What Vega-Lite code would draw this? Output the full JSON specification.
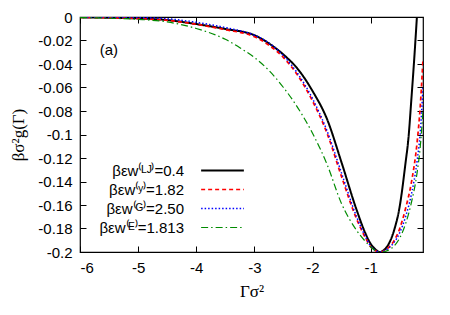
{
  "$schema": "https://vega.github.io/schema/vega-lite/v6.json",
  "width": 343,
  "height": 235,
  "autosize": {"type": "none"},
  "padding": {"left": 80, "top": 17, "right": 27, "bottom": 63},
  "background": "#ffffff",
  "config": {
    "view": {"stroke": "#000000", "strokeWidth": 1.2},
    "axis": {
      "grid": false,
      "domain": false,
      "tickColor": "#000000",
      "tickSize": -6,
      "tickWidth": 1,
      "labelFont": "Liberation Sans",
      "labelFontSize": 15,
      "labelColor": "#000000",
      "titleFont": "Liberation Serif",
      "titleFontSize": 17,
      "titleFontWeight": "normal",
      "titleColor": "#000000"
    }
  },
  "datasets": {
    "curves": [
      {"x": -6, "y": -0.0003, "s": "LJ"}, {"x": -5.5, "y": -0.0006, "s": "LJ"}, {"x": -5, "y": -0.0012, "s": "LJ"},
      {"x": -4.5, "y": -0.0026, "s": "LJ"}, {"x": -4, "y": -0.006, "s": "LJ"}, {"x": -3.5, "y": -0.0102, "s": "LJ"},
      {"x": -3, "y": -0.0155, "s": "LJ"}, {"x": -2.75, "y": -0.0225, "s": "LJ"}, {"x": -2.5, "y": -0.032, "s": "LJ"},
      {"x": -2.25, "y": -0.0445, "s": "LJ"}, {"x": -2, "y": -0.063, "s": "LJ"}, {"x": -1.75, "y": -0.087, "s": "LJ"},
      {"x": -1.5, "y": -0.124, "s": "LJ"}, {"x": -1.25, "y": -0.163, "s": "LJ"}, {"x": -1.1, "y": -0.183, "s": "LJ"},
      {"x": -1, "y": -0.193, "s": "LJ"}, {"x": -0.9, "y": -0.1985, "s": "LJ"}, {"x": -0.85, "y": -0.2, "s": "LJ"},
      {"x": -0.8, "y": -0.1993, "s": "LJ"}, {"x": -0.7, "y": -0.194, "s": "LJ"}, {"x": -0.6, "y": -0.182, "s": "LJ"},
      {"x": -0.5, "y": -0.161, "s": "LJ"}, {"x": -0.4, "y": -0.124, "s": "LJ"}, {"x": -0.35, "y": -0.103, "s": "LJ"},
      {"x": -0.3, "y": -0.07, "s": "LJ"}, {"x": -0.25, "y": -0.035, "s": "LJ"}, {"x": -0.205, "y": 0, "s": "LJ"},

      {"x": -6, "y": -0.0003, "s": "Y"}, {"x": -5.5, "y": -0.0006, "s": "Y"}, {"x": -5, "y": -0.0013, "s": "Y"},
      {"x": -4.5, "y": -0.0028, "s": "Y"}, {"x": -4, "y": -0.0062, "s": "Y"}, {"x": -3.5, "y": -0.0108, "s": "Y"},
      {"x": -3, "y": -0.0168, "s": "Y"}, {"x": -2.75, "y": -0.024, "s": "Y"}, {"x": -2.5, "y": -0.0345, "s": "Y"},
      {"x": -2.25, "y": -0.05, "s": "Y"}, {"x": -2, "y": -0.0715, "s": "Y"}, {"x": -1.75, "y": -0.099, "s": "Y"},
      {"x": -1.5, "y": -0.136, "s": "Y"}, {"x": -1.25, "y": -0.171, "s": "Y"}, {"x": -1.1, "y": -0.187, "s": "Y"},
      {"x": -1, "y": -0.1955, "s": "Y"}, {"x": -0.9, "y": -0.1993, "s": "Y"}, {"x": -0.85, "y": -0.2, "s": "Y"},
      {"x": -0.8, "y": -0.1996, "s": "Y"}, {"x": -0.7, "y": -0.1965, "s": "Y"}, {"x": -0.6, "y": -0.1905, "s": "Y"},
      {"x": -0.5, "y": -0.18, "s": "Y"}, {"x": -0.4, "y": -0.163, "s": "Y"}, {"x": -0.3, "y": -0.141, "s": "Y"},
      {"x": -0.2, "y": -0.106, "s": "Y"}, {"x": -0.15, "y": -0.078, "s": "Y"}, {"x": -0.1, "y": -0.036, "s": "Y"},

      {"x": -6, "y": -0.0001, "s": "G"}, {"x": -5.5, "y": -0.0002, "s": "G"}, {"x": -5, "y": -0.0005, "s": "G"},
      {"x": -4.5, "y": -0.0015, "s": "G"}, {"x": -4, "y": -0.0045, "s": "G"}, {"x": -3.5, "y": -0.009, "s": "G"},
      {"x": -3, "y": -0.0155, "s": "G"}, {"x": -2.75, "y": -0.022, "s": "G"}, {"x": -2.5, "y": -0.033, "s": "G"},
      {"x": -2.25, "y": -0.0485, "s": "G"}, {"x": -2, "y": -0.0695, "s": "G"}, {"x": -1.75, "y": -0.097, "s": "G"},
      {"x": -1.5, "y": -0.133, "s": "G"}, {"x": -1.25, "y": -0.169, "s": "G"}, {"x": -1.1, "y": -0.186, "s": "G"},
      {"x": -1, "y": -0.195, "s": "G"}, {"x": -0.9, "y": -0.1992, "s": "G"}, {"x": -0.85, "y": -0.2, "s": "G"},
      {"x": -0.8, "y": -0.1997, "s": "G"}, {"x": -0.7, "y": -0.197, "s": "G"}, {"x": -0.6, "y": -0.192, "s": "G"},
      {"x": -0.5, "y": -0.1835, "s": "G"}, {"x": -0.4, "y": -0.17, "s": "G"}, {"x": -0.3, "y": -0.151, "s": "G"},
      {"x": -0.2, "y": -0.122, "s": "G"}, {"x": -0.15, "y": -0.1, "s": "G"}, {"x": -0.1, "y": -0.06, "s": "G"},

      {"x": -6, "y": -0.0005, "s": "E"}, {"x": -5.5, "y": -0.001, "s": "E"}, {"x": -5, "y": -0.002, "s": "E"},
      {"x": -4.5, "y": -0.0042, "s": "E"}, {"x": -4, "y": -0.0098, "s": "E"}, {"x": -3.5, "y": -0.019, "s": "E"},
      {"x": -3.25, "y": -0.0262, "s": "E"}, {"x": -3, "y": -0.0345, "s": "E"}, {"x": -2.75, "y": -0.0455, "s": "E"},
      {"x": -2.5, "y": -0.06, "s": "E"}, {"x": -2.25, "y": -0.0775, "s": "E"}, {"x": -2, "y": -0.099, "s": "E"},
      {"x": -1.75, "y": -0.1255, "s": "E"}, {"x": -1.5, "y": -0.159, "s": "E"}, {"x": -1.25, "y": -0.181, "s": "E"},
      {"x": -1.1, "y": -0.1905, "s": "E"}, {"x": -1, "y": -0.1957, "s": "E"}, {"x": -0.9, "y": -0.1993, "s": "E"},
      {"x": -0.85, "y": -0.2, "s": "E"}, {"x": -0.8, "y": -0.2, "s": "E"}, {"x": -0.7, "y": -0.1985, "s": "E"},
      {"x": -0.6, "y": -0.195, "s": "E"}, {"x": -0.5, "y": -0.188, "s": "E"}, {"x": -0.4, "y": -0.176, "s": "E"},
      {"x": -0.3, "y": -0.158, "s": "E"}, {"x": -0.2, "y": -0.132, "s": "E"}, {"x": -0.15, "y": -0.112, "s": "E"},
      {"x": -0.1, "y": -0.08, "s": "E"}
    ]
  },
  "resolve": {"axis": {"x": "independent", "y": "independent"}},
  "layer": [
    {
      "data": {"name": "curves"},
      "mark": {"type": "line", "interpolate": "monotone", "clip": true},
      "encoding": {
        "x": {
          "field": "x", "type": "quantitative",
          "scale": {"domain": [-6, -0.1], "nice": false, "zero": false},
          "axis": {"values": [-6, -5, -4, -3, -2, -1], "labelExpr": "'' + datum.value", "labelPadding": 14, "title": "Γσ²", "titlePadding": 8}
        },
        "y": {
          "field": "y", "type": "quantitative",
          "scale": {"domain": [-0.2, 0], "nice": false, "zero": false},
          "axis": {
            "values": [0, -0.02, -0.04, -0.06, -0.08, -0.1, -0.12, -0.14, -0.16, -0.18, -0.2],
            "labelExpr": "'' + datum.value", "labelPadding": 14,
            "title": "βσ²g(Γ)", "titlePadding": 10
          }
        },
        "color": {
          "field": "s", "type": "nominal",
          "scale": {"domain": ["LJ", "Y", "G", "E"], "range": ["#000000", "#ff0000", "#0000ff", "#008b00"]},
          "legend": {
            "orient": "none", "legendX": 134, "legendY": 145,
            "title": null, "padding": 0,
            "symbolType": "M-2.85,0H2.85", "symbolSize": 225, "rowPadding": 2,
            "labelAlign": "right", "labelOffset": -47,
            "labelFont": "Liberation Sans", "labelFontSize": 15, "labelColor": "#000000",
            "labelExpr": "datum.value == 'LJ' ? 'βεw⁽ᴸᴶ⁾=0.4' : datum.value == 'Y' ? 'βεw⁽ʸ⁾=1.82' : datum.value == 'G' ? 'βεw⁽ᴳ⁾=2.50' : 'βεw⁽ᴱ⁾=1.813'"
          }
        },
        "strokeDash": {
          "field": "s", "type": "nominal",
          "scale": {"domain": ["LJ", "Y", "G", "E"], "range": [[1, 0], [4, 3], [1.5, 2], [7, 3, 1.5, 3]]}
        },
        "strokeWidth": {
          "field": "s", "type": "nominal",
          "scale": {"domain": ["LJ", "Y", "G", "E"], "range": [2, 1.2, 1.3, 1.2]}
        }
      }
    },
    {
      "data": {"values": [{"label": "(a)"}]},
      "mark": {"type": "text", "align": "left", "baseline": "middle", "font": "Liberation Sans", "fontSize": 15, "color": "#000000"},
      "encoding": {
        "text": {"field": "label"},
        "x": {"datum": -5.66, "type": "quantitative", "axis": {"orient": "top", "values": [-6, -5, -4, -3, -2, -1], "labels": false, "title": null}},
        "y": {"datum": -0.028, "type": "quantitative", "axis": {"orient": "right", "values": [0, -0.02, -0.04, -0.06, -0.08, -0.1, -0.12, -0.14, -0.16, -0.18, -0.2], "labels": false, "title": null}}
      }
    }
  ]
}
